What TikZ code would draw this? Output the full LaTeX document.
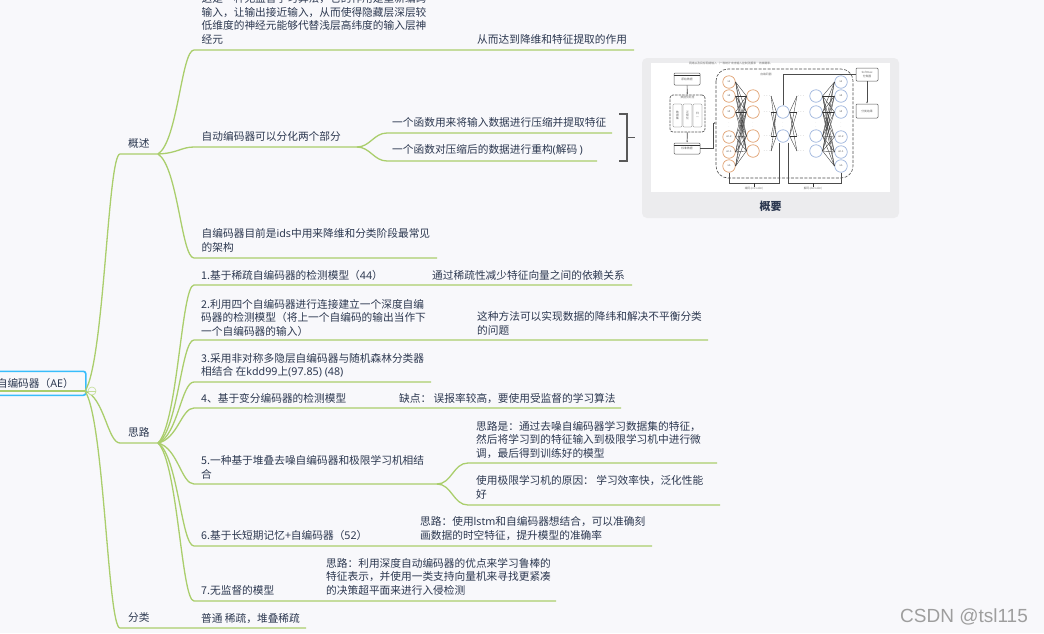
\documentclass[tikz,border=0pt]{standalone}
\usepackage{fontspec}
\setmainfont{Noto Sans CJK SC}
\newfontfamily\markfont{Liberation Sans}
\newfontfamily\latfont{Noto Sans}
\usepackage{xcolor}
\usetikzlibrary{positioning, arrows.meta, calc}
\definecolor{pagebg}{HTML}{F8F8FB}
\definecolor{branchgreen}{HTML}{AACE6C}
\definecolor{inkblue}{HTML}{2C3850}
\definecolor{rootblue}{HTML}{38BDFB}
\definecolor{panelgray}{HTML}{ECECEE}
\definecolor{ringorange}{HTML}{E0A070}
\definecolor{ringblue}{HTML}{9DB4DC}

\begin{document}
\begin{tikzpicture}[
  x=1pt, y=-1pt,
  branch/.style={draw=branchgreen, line width=1.3pt},
  curveto/.style={to path={let \p1=(\tikztostart), \p2=(\tikztotarget) in
      .. controls ({\x1+0.55*(\x2-\x1)},{\y1+0.12*(\y2-\y1)})
      and ({\x2-0.35*(\x2-\x1)},\y2) .. (\tikztotarget)}},
  leaf/.style={anchor=south west, inner sep=0pt, align=left, text=inkblue,
               font=\fontsize{10.7}{13.5}\selectfont},
  rootbox/.style={draw=rootblue, line width=1.6pt, rounded corners=2.5pt,
                  minimum width=95pt, minimum height=24pt, inner xsep=6pt,
                  text width=83pt, align=left, anchor=north west, text=inkblue,
                  font=\fontsize{10.7}{13.5}\selectfont},
  ring/.style={circle, draw=#1, line width=0.7pt, fill=white, minimum size=12.5pt,
               inner sep=0pt, font=\fontsize{2.6}{3}\selectfont, text=black!70},
  wire/.style={draw=black!80, line width=0.35pt},
  thickwire/.style={draw=black!70, line width=0.7pt},
  tinybox/.style={draw=black!65, line width=0.5pt, rounded corners=1pt, fill=white,
                  inner sep=0pt, align=center, text=black!60,
                  font=\fontsize{2.8}{3.4}\selectfont},
  tinytext/.style={inner sep=0pt, text=black!55, font=\fontsize{2.8}{3.4}\selectfont},
]
\useasboundingbox (0,0) rectangle (1044,633);
\clip (0,0) rectangle (1044,633);
\fill[pagebg] (0,0) rectangle (1044,633);

% Root and the three topics
\coordinate (trunk) at (85,391);
\coordinate (rootleft) at (0,391);
\draw[branch] (rootleft) -- (trunk);
\node[rootbox, fill=none] (ae) at (-10,370.5) {\raisebox{1.5pt}{自编码器（{\latfont AE}）}};

\foreach \name/\y/\xe in {gaishu/154/158, silu/443/158, fenlei/628/306} {
  \coordinate (\name s) at (120,\y);
  \coordinate (\name e) at (\xe,\y);
  \draw[branch] (trunk) to[curveto] (\name s) -- (\name e);
}
\node[leaf] (gaishu) at (128,148.5) {概述};
\node[leaf] (silu) at (128,437.5) {思路};
\node[leaf] (fenlei) at (128,623) {分类};
\node[circle, draw=branchgreen!70, line width=0.6pt, fill=pagebg, minimum size=8pt,
      inner sep=0pt] (fold) at (92,391) {};
\draw[draw=branchgreen!70, line width=0.6pt] (fold.west) -- (fold.east);

% Children of the first topic
\foreach \i/\y/\xe in {1/50/634, 2/147/357, 3/258/437} {
  \coordinate (gs\i) at (194,\y);
  \coordinate (gs\i e) at (\xe,\y);
  \draw[branch] (gaishue) to[curveto] (gs\i) -- (gs\i e);
}
\coordinate (ya) at (387,133);
\coordinate (yae) at (612,133);
\coordinate (yb) at (387,161);
\coordinate (ybe) at (597,161);
\draw[branch] (gs2e) to[out=0, in=180] (ya) -- (yae);
\draw[branch] (gs2e) to[out=0, in=180] (yb) -- (ybe);

\node[leaf] (gsa) at (201.5,44.5) {这是一种无监督学习算法，它的作用是重新编码\\输入，让输出接近输入，从而使得隐藏层深层较\\低维度的神经元能够代替浅层高纬度的输入层神\\经元};
\node[leaf] (gsb) at (477,44.5) {从而达到降维和特征提取的作用};
\node[leaf] (gsc) at (201.5,141.5) {自动编码器可以分化两个部分};
\node[leaf] (gsd) at (392,127.5) {一个函数用来将输入数据进行压缩并提取特征};
\node[leaf] (gse) at (392,155.5) {一个函数对压缩后的数据进行重构{\latfont(}解码 {\latfont)}};
\node[leaf] (gsf) at (201.5,252.5) {自编码器目前是{\latfont ids}中用来降维和分类阶段最常见\\的架构};

% Bracket to the image
\coordinate (bt) at (619,114);
\coordinate (bb) at (619,161);
\coordinate (bx) at (627,114);
\coordinate (bm) at (627,137.5);
\coordinate (bs) at (635,137.5);
\draw[draw=black!65, line width=1.2pt] (bt) -- (bx) -- (bx |- bb) -- (bb);
\draw[draw=black!65, line width=1.2pt] (bm) -- (bs);

% Children of the second topic
\foreach \i/\y/\xe in {1/285/632, 2/340/708, 3/382/431, 4/408/621, 5/484/437, 6/546/652, 7/601/556} {
  \coordinate (sl\i) at (194,\y);
  \coordinate (sl\i e) at (\xe,\y);
  \draw[branch] (silue) to[curveto] (sl\i) -- (sl\i e);
}
\coordinate (wa) at (468,463);
\coordinate (wae) at (717,463);
\coordinate (wb) at (468,505);
\coordinate (wbe) at (720,505);
\draw[branch] (sl5e) to[out=0, in=180] (wa) -- (wae);
\draw[branch] (sl5e) to[out=0, in=180] (wb) -- (wbe);

\node[leaf] (sla) at (201,280.5) {1.基于稀疏自编码器的检测模型（{\latfont 44}）};
\node[leaf] (slb) at (432,280.5) {通过稀疏性减少特征向量之间的依赖关系};
\node[leaf] (slc) at (201,336.5) {2.利用四个自编码器进行连接建立一个深度自编\\码器的检测模型（将上一个自编码的输出当作下\\一个自编码器的输入）};
\node[leaf] (sld) at (477,335.5) {这种方法可以实现数据的降纬和解决不平衡分类\\的问题};
\node[leaf] (sle) at (201,377.5) {3.采用非对称多隐层自编码器与随机森林分类器\\相结合 在{\latfont kdd99}上{\latfont(97.85) (48)}};
\node[leaf] (slf) at (201,403.5) {4、基于变分编码器的检测模型};
\node[leaf] (slg) at (399,403.5) {缺点： 误报率较高，要使用受监督的学习算法};
\node[leaf] (slh) at (476,458.5) {思路是：通过去噪自编码器学习数据集的特征，\\然后将学习到的特征输入到极限学习机中进行微\\调，最后得到训练好的模型};
\node[leaf] (sli) at (476,499.5) {使用极限学习机的原因： 学习效率快，泛化性能\\好};
\node[leaf] (slj) at (201,479.5) {5.一种基于堆叠去噪自编码器和极限学习机相结\\合};
\node[leaf] (slk) at (201,540.5) {6.基于长短期记忆+自编码器（{\latfont 52}）};
\node[leaf] (sll) at (420,540.5) {思路：使用{\latfont lstm}和自编码器想结合，可以准确刻\\画数据的时空特征，提升模型的准确率};
\node[leaf] (slm) at (201,595.5) {7.无监督的模型};
\node[leaf] (sln) at (326,595.5) {思路：利用深度自动编码器的优点来学习鲁棒的\\特征表示，并使用一类支持向量机来寻找更紧凑\\的决策超平面来进行入侵检测};
\node[leaf] (flb) at (201,623.5) {普通 稀疏，堆叠稀疏};

% Image panel
\fill[panelgray, rounded corners=5pt] (642,58) rectangle (899,218);
\fill[white] (651,63) rectangle (890,192);
\node[text=inkblue, inner sep=0pt, font=\fontsize{11}{13}\bfseries\selectfont] (gaiyao) at (770.5,206) {概要};
\node[tinytext] (imgtitle) at (731,63.5) {网络以及目标网络输入（一种统计攻击输入控制测报率\quad 的准确率。};

\draw[draw=black!70, line width=0.6pt, dash pattern=on 3pt off 1.5pt, rounded corners=12pt] (716,69) rectangle (853,178);
\node[tinytext] (aelabel) at (766,74) {自编码器};

% Input side
\node[tinybox, minimum width=26pt, minimum height=12pt] (dbtop) at (687,79) {原始数据};
\draw[wire] ($(dbtop.north west)+(0,2)$) -- ($(dbtop.north east)+(0,2)$);
\node[tinybox, dash pattern=on 2.5pt off 1pt, line width=0.7pt, rounded corners=3pt, minimum width=35pt, minimum height=37pt] (prep) at (687.5,113.5) {};
\node[tinytext, below=1.5pt of prep.north] (preplabel) {数据预处理};
\foreach \x/\lab in {677.5/数\\据\\集, 687.5/正\\规\\化, 697.5/归\\一} {
  \node[tinybox, line width=0.3pt, minimum width=9pt, minimum height=23pt] at (\x,115.5) {\lab};
}
\node[tinybox, minimum width=26pt, minimum height=11pt] (dbbot) at (687,148.5) {标准数据};
\draw[wire] ($(dbbot.north west)+(0,2)$) -- ($(dbbot.north east)+(0,2)$);
\draw[thickwire, -{Latex[length=2pt]}] (dbtop) -- (prep);
\draw[thickwire, -{Latex[length=2pt]}] (prep) -- (dbbot);
\coordinate (gatein) at (716,123);
\draw[thickwire, -{Latex[length=2pt]}] (dbbot.east) -- ++(13,0) |- (gatein);

% Network
\foreach \y/\lab [count=\i] in {82/x1, 96/x2, 112/x3, 137/xn-2, 152/xn-1, 166/xn} {
  \node[ring=ringorange] (in\i) at (729,\y) {\lab};
  \node[ring=ringblue] (out\i) at (841,\y) {\lab};
}
\foreach \y [count=\i] in {96,112,136,151} {
  \node[ring=ringorange] (ha\i) at (753,\y) {};
  \node[ring=ringblue] (hb\i) at (816,\y) {};
  \node[tinytext] (da\i) at (767,\y) {$\cdot\!\cdot\!\cdot$};
  \node[tinytext] (db\i) at (801,\y) {$\cdot\!\cdot\!\cdot$};
}
\node[ring=ringblue] (mid1) at (783,112) {};
\node[ring=ringblue] (mid2) at (783,136) {};
\foreach \i in {1,...,6} \foreach \j in {1,...,4} {
  \draw[wire] (in\i.east) -- (ha\j.west);
  \draw[wire] (hb\j.east) -- (out\i.west);
}
\foreach \i in {1,2} \foreach \j in {1,...,4} {
  \draw[wire] (da\j.east) -- (mid\i.west);
  \draw[wire] (mid\i.east) -- (db\j.west);
}
\foreach \x/\y in {729/124, 753/124, 783/124, 816/124, 841/124} {
  \node[tinytext] at (\x,\y) {$\vdots$};
}

% Output side
\node[tinybox, minimum width=22pt, minimum height=13pt] (softmax) at (867,74.5) {Softmax\\分类器};
\node[tinybox, minimum width=22pt, minimum height=14pt] (result) at (867,111) {分类结果};
\draw[thickwire, -{Latex[length=2pt]}] (softmax) -- (result);
\draw[thickwire] (mid1.north) |- (softmax.west);

% Braces under the network
\coordinate (enca) at (729,183);
\coordinate (encb) at (779,183);
\coordinate (deca) at (788,183);
\coordinate (decb) at (841,183);
\draw[thickwire] (in6.south) -- (enca) -- (encb) -- (encb |- mid2.south);
\draw[thickwire] (deca |- mid2.south) -- (deca) -- (decb) -- (out6.south);
\node[tinytext] (enclabel) at (754,189) {编码(encoder)};
\node[tinytext] (declabel) at (813,189) {解码(decoder)};
\draw[wire] (enclabel.north) -- (enclabel.north |- enca);
\draw[wire] (declabel.north) -- (declabel.north |- deca);

% Watermark
\node[text=black!38, inner sep=0pt, font=\fontsize{19}{20}\markfont] (mark) at (964,617) {CSDN @tsl115};
\end{tikzpicture}
\end{document}
